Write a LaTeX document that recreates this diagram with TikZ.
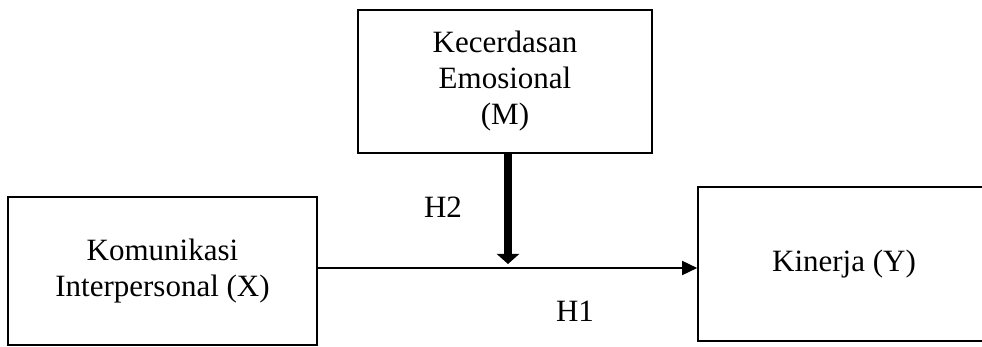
\documentclass[tikz,border=0pt]{standalone}
\usepackage{fontspec}
\setmainfont{Liberation Serif}
\usetikzlibrary{arrows.meta}
\begin{document}
\begin{tikzpicture}[x=1pt,y=-1pt,
  varbox/.style={draw,line width=1.6pt,inner sep=0pt,align=center,
    font=\fontsize{31}{36}\selectfont},
  lbl/.style={inner sep=0pt,font=\fontsize{31}{36}\selectfont},
  path/.style={line width=1.6pt,-{Triangle[length=15pt,width=14pt]}},
  moderator/.style={line width=8pt,-{Triangle[length=10pt,width=22pt]}}]
  \useasboundingbox (0,0) rectangle (982,347);
  % variables
  \node[varbox,minimum width=294pt,minimum height=143pt] (M) at (505,81.5)
    {Kecerdasan\\Emosional\\(M)};
  \node[varbox,minimum width=309pt,minimum height=148pt] (X) at (162.5,271)
    {Komunikasi\\Interpersonal (X)};
  \node[varbox,minimum width=292pt,minimum height=154pt] (Y) at (844,264)
    {Kinerja (Y)};
  % direct path X -> Y
  \coordinate (J) at ([xshift=3pt]M.south |- 0,268);
  \draw[path] (X.east |- J) -- (Y.west |- J);
  % moderating path M -> X--Y
  \draw[moderator] ([xshift=3pt]M.south) -- ([yshift=4pt]J);
  % hypothesis labels
  \node[lbl] (h2) at (443,207) {H2};
  \node[lbl] (h1) at (575,311) {H1};
\end{tikzpicture}
\end{document}
